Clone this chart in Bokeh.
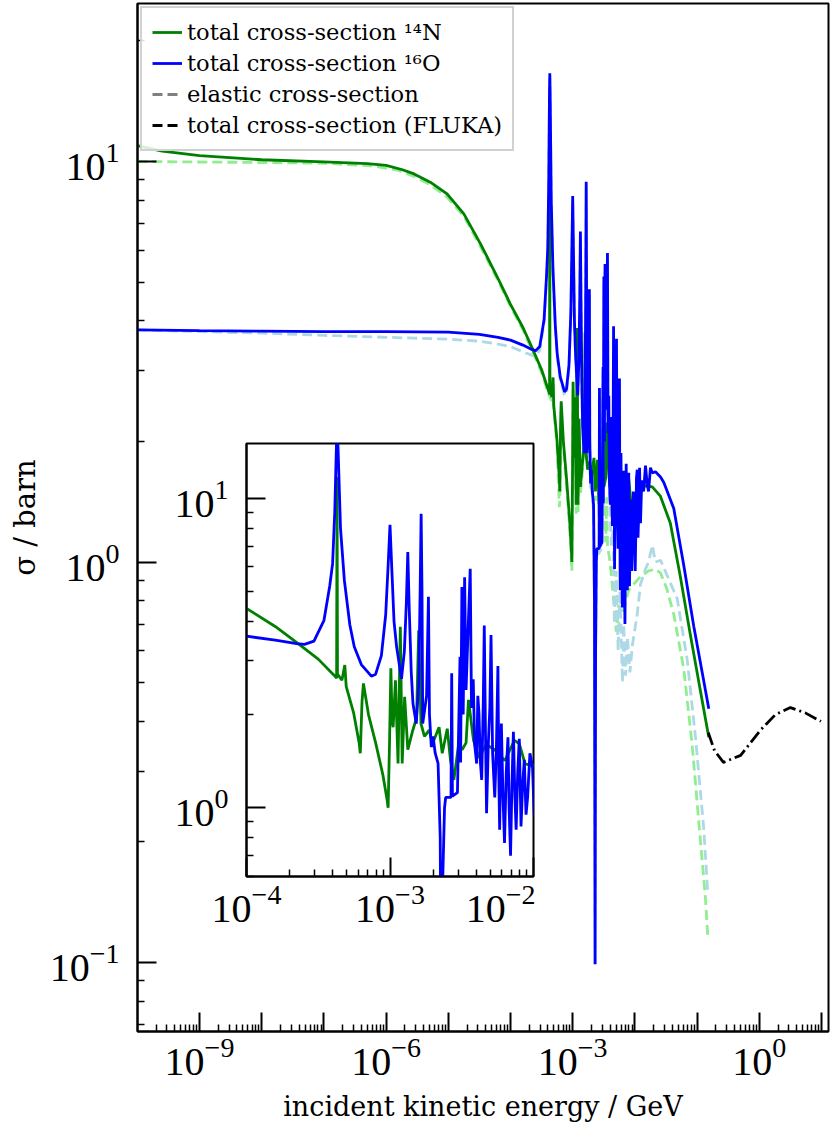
import numpy as np
from bokeh.plotting import figure
from bokeh.models import Range1d, FixedTicker, Legend, LegendItem, LogTickFormatter
from bokeh.embed import file_html
from bokeh.resources import INLINE

# ---------------- data ----------------
# log10 of incident kinetic energy [GeV] and cross-section [barn]
N14_TOT_LOGE = [-10.0, -9.6, -9.0, -8.0, -7.0, -6.3, -6.0, -5.75, -5.55, -5.29, -5.02, -4.75, -4.48,
                -4.21, -4.0, -3.80, -3.64, -3.50, -3.39, -3.372, -3.369, -3.366, -3.335, -3.315,
                -3.305, -3.253, -3.215, -3.207, -3.195, -3.185, -3.15, -3.10, -3.05, -3.02, -3.013,
                -3.003, -2.994, -2.985, -2.978, -2.962, -2.944, -2.928, -2.915, -2.898, -2.876,
                -2.841, -2.815, -2.800, -2.784, -2.76, -2.727, -2.704, -2.658, -2.636, -2.601,
                -2.579, -2.555, -2.521, -2.498, -2.470, -2.453, -2.418, -2.38, -2.33, -2.27, -2.20,
                -2.133, -2.099, -2.06, -2.007, -1.95, -1.85, -1.72, -1.59, -1.43, -1.27, -1.11,
                -0.945, -0.812]
N14_TOT_SIG = [10.96, 10.62, 10.34, 10.10, 9.98, 9.88, 9.78, 9.55, 9.31, 8.88, 8.30, 7.40, 6.22,
               5.14, 4.40, 3.85, 3.39, 3.02, 2.68, 2.62, 11.7, 2.70, 2.58, 2.89,
               2.46, 2.02, 1.62, 1.50, 2.20, 2.52, 2.00, 1.62, 1.28, 1.06, 1.00,
               1.65, 2.82, 1.90, 1.82, 2.58, 1.39, 3.84, 1.39, 2.28, 1.54,
               1.78, 1.95, 3.74, 1.87, 1.70, 1.78, 1.61, 1.82, 1.50, 1.80,
               1.43, 1.23, 1.61, 1.54, 1.62, 2.23, 1.65, 1.45, 1.60, 1.54, 1.42,
               1.65, 1.61, 1.39, 1.36, 1.45, 1.55, 1.54, 1.46, 1.25, 0.92, 0.66,
               0.475, 0.365]

O16_TOT_LOGE = [-10.0, -9.0, -8.0, -7.0, -6.0, -5.0, -4.5, -4.2, -4.0, -3.8, -3.65, -3.596, -3.53,
                -3.46, -3.42, -3.40, -3.385, -3.373, -3.368, -3.362, -3.345, -3.318, -3.28, -3.249,
                -3.20, -3.13, -3.10, -3.06, -3.03, -3.012, -3.000, -2.988, -2.972, -2.954, -2.920,
                -2.900, -2.886, -2.876, -2.866, -2.852, -2.840, -2.817, -2.800, -2.790, -2.783,
                -2.777, -2.772, -2.745, -2.732, -2.725, -2.712, -2.700, -2.685, -2.665, -2.650,
                -2.640, -2.632, -2.620, -2.612, -2.575, -2.570, -2.565, -2.530, -2.512, -2.508,
                -2.499, -2.490, -2.480, -2.470, -2.441, -2.432, -2.420, -2.410, -2.396, -2.388,
                -2.380, -2.370, -2.361, -2.350, -2.343, -2.335, -2.327, -2.315, -2.304, -2.296,
                -2.285, -2.270, -2.258, -2.248, -2.242, -2.236, -2.224, -2.213, -2.202, -2.190,
                -2.178, -2.170, -2.160, -2.150, -2.140, -2.130, -2.121, -2.110, -2.099, -2.087,
                -2.075, -2.064, -2.052, -2.041, -2.025, -2.007, -1.995, -1.985, -1.975, -1.963,
                -1.950, -1.940, -1.925, -1.910, -1.890, -1.860, -1.830, -1.800, -1.780, -1.750,
                -1.720, -1.670, -1.588, -1.535, -1.375, -1.214, -1.053, -0.918, -0.812]
O16_TOT_SIG = [3.80, 3.78, 3.77, 3.76, 3.76, 3.75, 3.70, 3.64, 3.58, 3.48, 3.39, 3.37, 3.45,
               4.03, 5.20, 6.14, 9.0, 15.0, 16.6, 14.5, 8.0, 5.42, 3.90, 3.31,
               2.90, 2.66, 2.70, 3.10, 4.20, 6.20, 8.20, 6.00, 4.00, 3.31, 2.61,
               3.20, 4.60, 6.69, 4.40, 2.75, 2.17, 1.87, 2.50, 5.00, 8.90,
               5.00, 1.87, 2.30, 4.80, 2.00, 1.57, 1.70, 1.50, 1.39, 0.80,
               0.099, 0.60, 1.00, 1.08, 1.08, 2.72, 1.09, 1.12, 3.07, 1.40,
               5.16, 2.00, 5.55, 2.40, 5.91, 2.10, 2.60, 1.60, 1.39, 2.30,
               2.02, 1.40, 1.23, 2.20, 3.88, 1.80, 0.96, 1.60, 2.12, 3.61,
               1.50, 1.08, 1.60, 2.87, 1.30, 0.85, 1.87, 1.10, 0.77, 1.30,
               1.69, 1.00, 0.70, 1.20, 1.76, 1.10, 0.85, 1.30, 1.67, 0.87,
               1.20, 1.43, 0.95, 1.08, 1.50, 1.36, 0.95, 1.20, 1.62, 1.70,
               1.15, 1.30, 1.72, 1.25, 1.60, 1.50, 1.74, 1.55, 1.50, 1.72,
               1.67, 1.68, 1.63, 1.58, 1.36, 0.98, 0.69, 0.53, 0.43]

N14_EL_LOGE = [-10.0, -9.0, -8.0, -7.0, -6.2, -5.8, -5.55, -5.29, -5.02, -4.75, -4.48, -4.21, -4.0,
               -3.80, -3.64, -3.50, -3.39, -3.335, -3.315, -3.305, -3.253, -3.215, -3.207, -3.185,
               -3.15, -3.10, -3.05, -3.013, -2.994, -2.978, -2.962, -2.944, -2.928, -2.915, -2.898,
               -2.876, -2.841, -2.800, -2.784, -2.727, -2.704, -2.658, -2.636, -2.601, -2.579,
               -2.555, -2.521, -2.498, -2.470, -2.453, -2.44, -2.40, -2.34, -2.30, -2.26, -2.20,
               -2.10, -2.02, -1.91, -1.78, -1.67, -1.59, -1.49, -1.375, -1.214, -1.08, -0.945,
               -0.865, -0.828]
N14_EL_SIG = [10.00, 9.97, 9.94, 9.90, 9.75, 9.50, 9.18, 8.75, 8.15, 7.30, 6.12, 5.08, 4.35,
              3.80, 3.34, 2.97, 2.63, 2.52, 2.82, 2.40, 1.96, 1.37, 1.42, 2.45,
              1.93, 1.55, 1.22, 0.95, 2.70, 1.75, 2.45, 1.32, 3.65, 1.32, 2.15,
              1.47, 1.70, 3.50, 1.78, 1.70, 1.52, 1.72, 1.42, 1.70, 1.35,
              1.15, 1.50, 1.42, 1.12, 1.45, 1.10, 1.00, 0.80, 0.67, 0.78, 0.74,
              0.85, 0.88, 0.92, 0.95, 0.96, 0.94, 0.86, 0.74, 0.54, 0.35, 0.20,
              0.144, 0.116]

O16_EL_LOGE = [-10.0, -9.0, -8.0, -7.0, -6.0, -5.0, -4.5, -4.2, -4.0, -3.8, -3.65, -3.596, -3.53,
               -3.46, -3.42, -3.40, -3.385, -3.373, -3.368, -3.362, -3.345, -3.318, -3.28, -3.249,
               -3.20, -3.13, -3.10, -3.06, -3.03, -3.012, -3.000, -2.988, -2.972, -2.954, -2.920,
               -2.900, -2.886, -2.876, -2.866, -2.852, -2.840, -2.817, -2.800, -2.790, -2.783,
               -2.777, -2.772, -2.745, -2.732, -2.725, -2.712, -2.700, -2.685, -2.665, -2.650,
               -2.640, -2.632, -2.620, -2.612, -2.575, -2.570, -2.565, -2.530, -2.512, -2.508,
               -2.499, -2.490, -2.480, -2.470, -2.441, -2.430, -2.396, -2.380, -2.35, -2.33,
               -2.30, -2.27, -2.24, -2.20, -2.18, -2.15, -2.12, -2.08, -2.04, -2.02, -1.963,
               -1.91, -1.83, -1.78, -1.72, -1.67, -1.588, -1.320, -1.159, -1.026, -0.892, -0.828]
O16_EL_SIG = [3.80, 3.76, 3.73, 3.68, 3.64, 3.60, 3.56, 3.50, 3.45, 3.35, 3.28, 3.26, 3.38,
              3.95, 5.10, 6.00, 8.8, 14.6, 16.2, 14.1, 7.8, 5.30, 3.82, 3.24,
              2.84, 2.60, 2.64, 3.03, 4.10, 6.05, 8.00, 5.85, 3.90, 3.24, 2.55,
              3.12, 4.50, 6.50, 4.30, 2.68, 2.12, 1.82, 2.44, 4.85, 8.60,
              4.85, 1.82, 2.24, 4.65, 1.95, 1.53, 1.65, 1.46, 1.35, 0.78,
              0.099, 0.58, 0.97, 1.05, 1.05, 2.60, 1.06, 1.09, 2.95, 1.35,
              4.95, 1.93, 5.35, 2.30, 5.70, 1.90, 1.30, 1.10, 1.20, 0.70,
              0.95, 0.60, 0.85, 0.50, 0.70, 0.52, 0.65, 0.53, 0.62, 0.65, 0.74,
              0.88, 0.96, 1.00, 1.10, 1.00, 1.01, 0.81, 0.57, 0.365, 0.215, 0.148]

FLUKA_LOGE = [-0.82, -0.72, -0.576, -0.30, 0.016, 0.26, 0.50, 0.74, 0.99]
FLUKA_SIG = [0.375, 0.338, 0.316, 0.329, 0.38, 0.416, 0.433, 0.42, 0.40]

LEGEND_LABELS = ["total cross-section \u00b9\u2074N", "total cross-section \u00b9\u2076O",
                 "elastic cross-section", "total cross-section (FLUKA)"]

# decade ticks; labels (10^n, drawn by the log formatter) only on these
X_TICKS = [1e-10, 1e-9, 1e-8, 1e-7, 1e-6, 1e-5, 1e-4, 1e-3, 1e-2, 1e-1, 1e0, 1e1]
X_LABELED_TICKS = [1e-9, 1e-6, 1e-3, 1e0]
Y_TICKS = [0.1, 1.0, 10.0]
IN_X_TICKS = [1e-4, 1e-3, 1e-2]
IN_Y_TICKS = [1.0, 10.0]

X_LABEL = "incident kinetic energy / GeV"
Y_LABEL = "\u03c3 / barn"


def energies(loge):
    return [10.0 ** v for v in loge]


def minor_ticks(lo_exp, hi_exp):
    out = []
    for e in range(lo_exp, hi_exp + 1):
        for k in range(2, 10):
            out.append(k * 10.0 ** e)
    return out


FONT = "DejaVu Serif"
TICK_FONT = "Liberation Serif"
TICK_FS = "40px"
LW = 2.8
DASH = "10 5"


def style_axes(fig, label_fs="27px"):
    for ax in (fig.xaxis[0], fig.yaxis[0]):
        ax.axis_line_width = 2
        ax.major_tick_line_width = 2
        ax.minor_tick_line_width = 1.5
        ax.major_tick_in = 19
        ax.major_tick_out = 0
        ax.minor_tick_in = 7
        ax.minor_tick_out = 0
        ax.major_label_text_font = TICK_FONT
        ax.major_label_text_font_size = TICK_FS
        ax.major_label_text_color = "black"
        ax.axis_label_text_font = FONT
        ax.axis_label_text_font_size = label_fs
        ax.axis_label_text_font_style = "normal"
        ax.axis_label_text_color = "black"
        ax.formatter = LogTickFormatter()


# ---------------- main plot ----------------
p = figure(width=830, height=1131, x_axis_type="log", y_axis_type="log",
           x_range=Range1d(10 ** -9.9968, 10 ** 1.1125),
           y_range=Range1d(10 ** -1.17228, 10 ** 1.39451),
           output_backend="svg", toolbar_location=None,
           min_border_left=137, min_border_right=2, min_border_top=3, min_border_bottom=100)
p.grid.visible = False
p.outline_line_color = "black"
p.outline_line_width = 2
p.background_fill_color = "white"
p.border_fill_color = "white"
style_axes(p)

p.xaxis.ticker = FixedTicker(ticks=X_TICKS, minor_ticks=minor_ticks(-10, 1))
p.xaxis.major_label_overrides = {t: "" for t in X_TICKS if t not in X_LABELED_TICKS}
p.yaxis.ticker = FixedTicker(ticks=Y_TICKS, minor_ticks=minor_ticks(-2, 1))
p.xaxis.axis_label = X_LABEL
p.yaxis.axis_label = Y_LABEL
p.yaxis.axis_label_text_font_size = "29px"
p.xaxis.major_label_standoff = 6
p.yaxis.major_label_standoff = 18
p.xaxis.axis_label_standoff = 13
p.yaxis.axis_label_standoff = 5

p.line(energies(N14_EL_LOGE), N14_EL_SIG, line_color="#90ee90", line_width=LW, line_dash=DASH)
p.line(energies(O16_EL_LOGE), O16_EL_SIG, line_color="#add8e6", line_width=LW, line_dash=DASH)
r_n = p.line(energies(N14_TOT_LOGE), N14_TOT_SIG, line_color="green", line_width=LW)
r_o = p.line(energies(O16_TOT_LOGE), O16_TOT_SIG, line_color="blue", line_width=LW)
p.line(energies(FLUKA_LOGE), FLUKA_SIG, line_color="black", line_width=LW, line_dash="13 4 2 4")
# legend proxies (no visible data)
r_el = p.line(x=[1.0, 1.0], y=[float("nan"), float("nan")], line_color="gray", line_width=LW, line_dash=DASH)
r_fl = p.line(x=[1.0, 1.0], y=[float("nan"), float("nan")], line_color="black", line_width=LW, line_dash=DASH)

legend = Legend(items=[LegendItem(label=LEGEND_LABELS[0], renderers=[r_n]),
                       LegendItem(label=LEGEND_LABELS[1], renderers=[r_o]),
                       LegendItem(label=LEGEND_LABELS[2], renderers=[r_el]),
                       LegendItem(label=LEGEND_LABELS[3], renderers=[r_fl])],
                location="top_left")
legend.margin = 3
legend.padding = 10
legend.spacing = 3
legend.glyph_width = 30
legend.glyph_height = 28
legend.label_height = 28
legend.label_standoff = 5
legend.label_text_font = FONT
legend.label_text_font_size = "22.6px"
legend.label_text_color = "black"
legend.border_line_color = "#cccccc"
legend.border_line_width = 2.5
legend.border_line_alpha = 0.9
legend.background_fill_alpha = 0.85
p.add_layout(legend)

# ---------------- inset ----------------
inset = figure(width=364, height=495, x_axis_type="log", y_axis_type="log",
               x_range=Range1d(1e-4, 1e-2), y_range=Range1d(0.6, 15.0),
               output_backend="svg", toolbar_location=None,
               min_border_left=70, min_border_right=2, min_border_top=2, min_border_bottom=60)
inset.grid.visible = False
inset.outline_line_color = "black"
inset.outline_line_width = 2
inset.background_fill_color = "white"
inset.border_fill_color = "white"
style_axes(inset)
inset.xaxis.ticker = FixedTicker(ticks=IN_X_TICKS, minor_ticks=minor_ticks(-4, -3))
inset.yaxis.ticker = FixedTicker(ticks=IN_Y_TICKS, minor_ticks=[0.6, 0.7, 0.8, 0.9] + minor_ticks(0, 0))
inset.xaxis.major_label_standoff = 8
inset.yaxis.major_label_standoff = 18
inset.line(energies(N14_TOT_LOGE), N14_TOT_SIG, line_color="green", line_width=LW)
inset.line(energies(O16_TOT_LOGE), O16_TOT_SIG, line_color="blue", line_width=LW)
inset.styles = {"position": "absolute", "left": "171px", "top": "441px"}

open("out.html", "w").write(file_html([p, inset], INLINE))
